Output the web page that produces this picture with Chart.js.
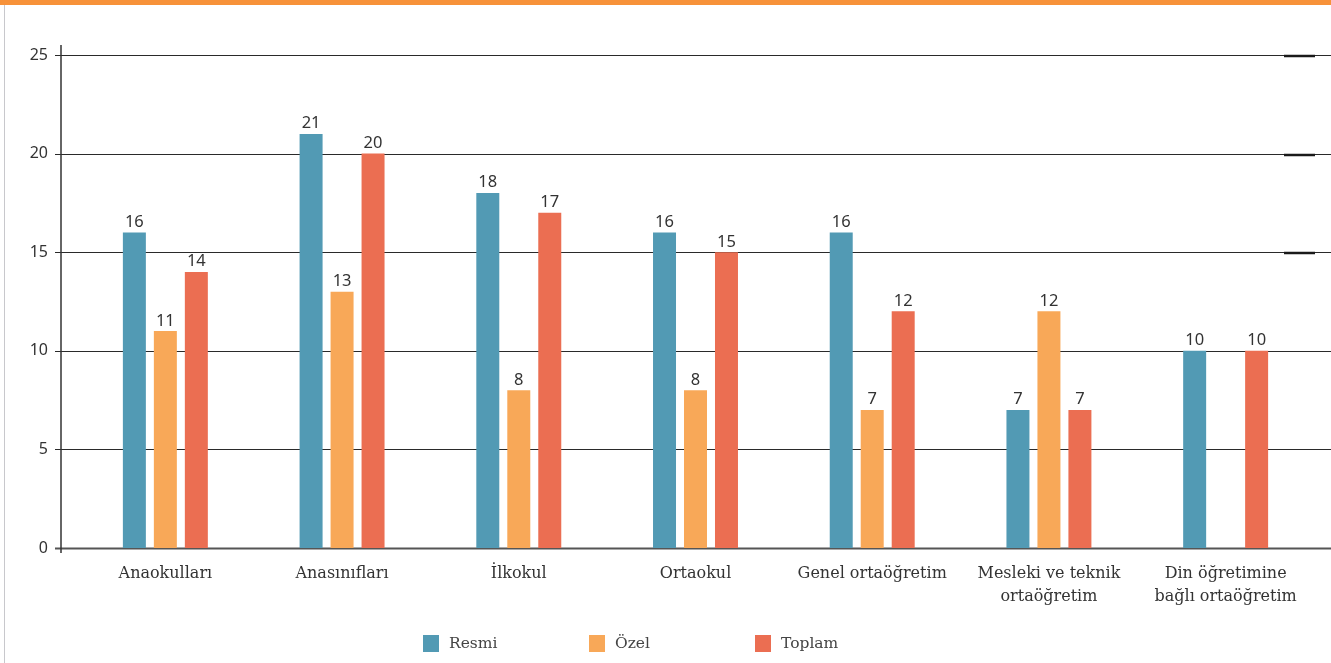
<!DOCTYPE html>
<html lang="tr">
  <head>
    <meta charset="UTF-8" />
    <title>Okul türlerine göre oranlar</title>
    <script src="https://cdn.jsdelivr.net/npm/chart.js"></script>
    <style>
      body {
        margin: 0;
        background: #fff;
      }
      #wrap {
        position: relative;
        width: 1331px;
        height: 663px;
        overflow: hidden;
      }
      #topBar {
        position: absolute;
        left: 0;
        top: 0;
        width: 1331px;
        height: 5px;
        background: #f7923a;
      }
      #leftLine {
        position: absolute;
        left: 4px;
        top: 5px;
        width: 1px;
        height: 658px;
        background: #c8c8cc;
      }
      #legend {
        position: absolute;
        left: 423px;
        top: 634px;
        display: flex;
        font-family: 'DejaVu Serif', serif;
        font-size: 15.5px;
        color: #444;
      }
      .item {
        width: 166px;
        display: flex;
        align-items: center;
      }
      .box {
        width: 16px;
        height: 17px;
        margin-right: 10px;
      }
    </style>
  </head>
  <body>
    <div id="wrap">
      <canvas id="chart" width="1331" height="663"></canvas>
      <div id="topBar"></div>
      <div id="leftLine"></div>
      <div id="legend"></div>
    </div>
    <script>
      // data
      const categories = [
        'Anaokulları',
        'Anasınıfları',
        'İlkokul',
        'Ortaokul',
        'Genel ortaöğretim',
        ['Mesleki ve teknik', 'ortaöğretim'],
        ['Din öğretimine', 'bağlı ortaöğretim']
      ]
      const seriesNames = ['Resmi', 'Özel', 'Toplam']
      const resmi = [16, 21, 18, 16, 16, 7, 10]
      const ozel = [11, 13, 8, 8, 7, 12, null]
      const toplam = [14, 20, 17, 15, 12, 7, 10]
      const yTicks = [0, 5, 10, 15, 20, 25]
      const colors = ['#529ab4', '#f8a858', '#eb6e52']

      // grid, axis line and the little marks on the sides
      const gridPlugin = {
        id: 'gridPlugin',
        beforeDatasetsDraw(chart) {
          const ctx = chart.ctx
          const y = chart.scales.y
          const axisX = 61
          ctx.save()
          yTicks.forEach(v => {
            const py = Math.round(y.getPixelForValue(v)) + 0.5
            ctx.beginPath()
            ctx.strokeStyle = v === 0 ? '#555' : '#2a2a2a'
            ctx.lineWidth = v === 0 ? 2 : 1
            ctx.moveTo(axisX - 6, py)
            ctx.lineTo(1331, py)
            ctx.stroke()
            if (v >= 15) {
              ctx.beginPath()
              ctx.strokeStyle = '#1a1a1a'
              ctx.lineWidth = 2.5
              ctx.moveTo(1284, py + 0.5)
              ctx.lineTo(1315, py + 0.5)
              ctx.stroke()
            }
          })
          ctx.beginPath()
          ctx.strokeStyle = '#333'
          ctx.lineWidth = 1.5
          ctx.moveTo(axisX, y.getPixelForValue(25) - 10)
          ctx.lineTo(axisX, y.getPixelForValue(0) + 5)
          ctx.stroke()
          ctx.restore()
        }
      }

      // value above each bar
      const valuePlugin = {
        id: 'valuePlugin',
        afterDatasetsDraw(chart) {
          const ctx = chart.ctx
          ctx.save()
          ctx.font = '16.5px "Noto Sans"'
          ctx.fillStyle = '#333'
          ctx.textAlign = 'center'
          ctx.textBaseline = 'bottom'
          chart.data.datasets.forEach((ds, i) => {
            chart.getDatasetMeta(i).data.forEach((bar, j) => {
              if (ds.data[j] == null) return
              ctx.fillText(ds.data[j], bar.x, bar.y - 2)
            })
          })
          ctx.restore()
        }
      }

      const ctx = document.getElementById('chart').getContext('2d')
      new Chart(ctx, {
        type: 'bar',
        data: {
          labels: categories,
          datasets: [resmi, ozel, toplam].map((d, i) => ({
            label: seriesNames[i],
            data: d,
            backgroundColor: colors[i],
            categoryPercentage: 0.526,
            barPercentage: 0.742
          }))
        },
        options: {
          responsive: false,
          animation: false,
          layout: { padding: { top: 55, right: 17, left: 0, bottom: 0 } },
          plugins: {
            legend: { display: false },
            tooltip: { enabled: false }
          },
          scales: {
            x: {
              grid: { display: false, drawTicks: false },
              border: { display: false },
              ticks: {
                color: '#333',
                font: { family: 'DejaVu Serif', size: 16, lineHeight: 1.45 },
                padding: 14,
                maxRotation: 0,
                autoSkip: false
              },
              afterFit: s => {
                s.height = 663 - 548
              }
            },
            y: {
              min: 0,
              max: 25,
              grid: { display: false, drawTicks: false },
              border: { display: false },
              ticks: {
                stepSize: 5,
                color: '#333',
                font: { family: 'Noto Sans', size: 16 },
                padding: 29
              },
              afterFit: s => {
                s.width = 77
              }
            }
          }
        },
        plugins: [gridPlugin, valuePlugin]
      })

      // legend under the chart
      const legend = document.getElementById('legend')
      seriesNames.forEach((name, i) => {
        const item = document.createElement('div')
        item.className = 'item'
        item.innerHTML =
          '<span class="box" style="background:' + colors[i] + '"></span>' + name
        legend.appendChild(item)
      })
    </script>
  </body>
</html>
